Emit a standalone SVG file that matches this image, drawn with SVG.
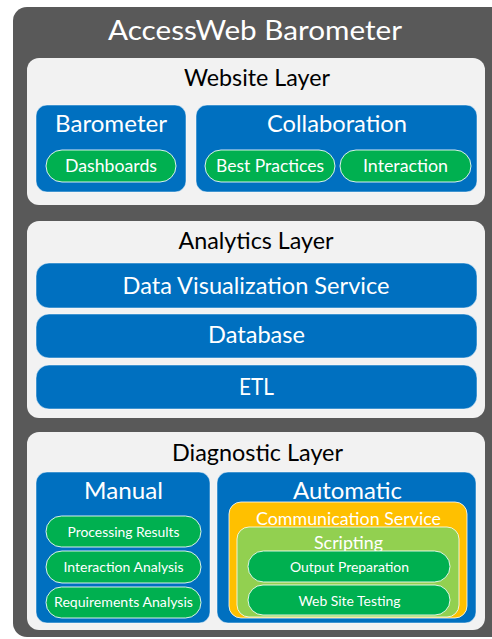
<svg xmlns="http://www.w3.org/2000/svg" width="492" height="639" viewBox="0 0 492 639">
<style>
text{font-family:Lato,"Open Sans","Liberation Sans",sans-serif;text-anchor:middle;}
.outer{fill:#595959;}
.panel{fill:#f2f2f2;}
.blue{fill:#0070c0;stroke:#ffffff;stroke-opacity:0.5;stroke-width:1;}
.pill{fill:#00b050;stroke:#ffffff;stroke-width:1;stroke-opacity:0.85;}
.orange{fill:#ffc000;stroke:#ffffff;stroke-width:1;stroke-opacity:0.8;}
.lgreen{fill:#92d050;stroke:#ffffff;stroke-width:1;stroke-opacity:0.8;}
.t-title{fill:#ffffff;font-size:26px;}
.t-layer{fill:#000000;font-size:23px;}
.t-box{fill:#ffffff;font-size:23px;}
.t-mid{fill:#ffffff;font-size:17.5px;}
.t-pill{fill:#ffffff;font-size:17px;}
.t-small{fill:#ffffff;font-size:13.6px;}
</style>
<g id="accessweb">
<rect class="outer" x="13" y="7" width="500" height="630" rx="14"/>
<text class="t-title" x="255" y="40" textLength="294" lengthAdjust="spacingAndGlyphs">AccessWeb Barometer</text>
</g>
<g id="website-layer">
<rect class="panel" x="27" y="58" width="458" height="147" rx="12"/>
<text class="t-layer" x="257" y="86" textLength="146" lengthAdjust="spacingAndGlyphs">Website Layer</text>
</g>
<g id="barometer">
<rect class="blue" x="36" y="105" width="150" height="87" rx="11"/>
<text class="t-box" x="111" y="132" textLength="112" lengthAdjust="spacingAndGlyphs">Barometer</text>
</g>
<g id="dashboards">
<rect class="pill" x="46" y="150" width="130" height="32" rx="16"/>
<text class="t-pill" x="111" y="172" textLength="92" lengthAdjust="spacingAndGlyphs">Dashboards</text>
</g>
<g id="collaboration">
<rect class="blue" x="196" y="105" width="281" height="87" rx="11"/>
<text class="t-box" x="337" y="132" textLength="140" lengthAdjust="spacingAndGlyphs">Collaboration</text>
</g>
<g id="best-practices">
<rect class="pill" x="205" y="150" width="130" height="32" rx="16"/>
<text class="t-pill" x="270" y="172" textLength="108" lengthAdjust="spacingAndGlyphs">Best Practices</text>
</g>
<g id="interaction">
<rect class="pill" x="340" y="150" width="131" height="32" rx="16"/>
<text class="t-pill" x="405.5" y="172" textLength="85" lengthAdjust="spacingAndGlyphs">Interaction</text>
</g>
<g id="analytics-layer">
<rect class="panel" x="27" y="221" width="458" height="197" rx="12"/>
<text class="t-layer" x="256" y="249" textLength="155" lengthAdjust="spacingAndGlyphs">Analytics Layer</text>
</g>
<g id="data-visualization-service">
<rect class="blue" x="36" y="263" width="441" height="45" rx="13"/>
<text class="t-box" x="256" y="294" textLength="267" lengthAdjust="spacingAndGlyphs">Data Visualization Service</text>
</g>
<g id="database">
<rect class="blue" x="36" y="314" width="441" height="44" rx="13"/>
<text class="t-box" x="256.5" y="343" textLength="97" lengthAdjust="spacingAndGlyphs">Database</text>
</g>
<g id="etl">
<rect class="blue" x="36" y="365" width="441" height="44" rx="13"/>
<text class="t-box" x="256.5" y="395" textLength="35" lengthAdjust="spacingAndGlyphs">ETL</text>
</g>
<g id="diagnostic-layer">
<rect class="panel" x="27" y="432" width="458" height="198" rx="12"/>
<text class="t-layer" x="257.5" y="461" textLength="171" lengthAdjust="spacingAndGlyphs">Diagnostic Layer</text>
</g>
<g id="manual">
<rect class="blue" x="36" y="472" width="174" height="151" rx="11"/>
<text class="t-box" x="123.5" y="499" textLength="79" lengthAdjust="spacingAndGlyphs">Manual</text>
</g>
<g id="processing-results">
<rect class="pill" x="46" y="516" width="155" height="31" rx="15.5"/>
<text class="t-small" x="123.5" y="537" textLength="112" lengthAdjust="spacingAndGlyphs">Processing Results</text>
</g>
<g id="interaction-analysis">
<rect class="pill" x="46" y="551" width="155" height="32" rx="16"/>
<text class="t-small" x="123.5" y="572" textLength="120" lengthAdjust="spacingAndGlyphs">Interaction Analysis</text>
</g>
<g id="requirements-analysis">
<rect class="pill" x="46" y="587" width="155" height="31" rx="15.5"/>
<text class="t-small" x="123.5" y="607" textLength="139" lengthAdjust="spacingAndGlyphs">Requirements Analysis</text>
</g>
<g id="automatic">
<rect class="blue" x="217" y="472" width="259" height="151" rx="11"/>
<text class="t-box" x="347.5" y="499" textLength="109" lengthAdjust="spacingAndGlyphs">Automatic</text>
</g>
<g id="communication-service">
<rect class="orange" x="229" y="502" width="238" height="116" rx="12"/>
<text class="t-mid" x="348.5" y="525" textLength="185" lengthAdjust="spacingAndGlyphs">Communication Service</text>
</g>
<g id="scripting">
<rect class="lgreen" x="237" y="527" width="222" height="90" rx="12"/>
<text class="t-mid" x="348.5" y="549" textLength="69" lengthAdjust="spacingAndGlyphs">Scripting</text>
</g>
<g id="output-preparation">
<rect class="pill" x="248" y="551" width="202" height="31" rx="15.5"/>
<text class="t-small" x="349.5" y="572" textLength="119" lengthAdjust="spacingAndGlyphs">Output Preparation</text>
</g>
<g id="web-site-testing">
<rect class="pill" x="248" y="585" width="202" height="30" rx="15"/>
<text class="t-small" x="349.5" y="606" textLength="102" lengthAdjust="spacingAndGlyphs">Web Site Testing</text>
</g>
<g id="connectors"></g>
</svg>
